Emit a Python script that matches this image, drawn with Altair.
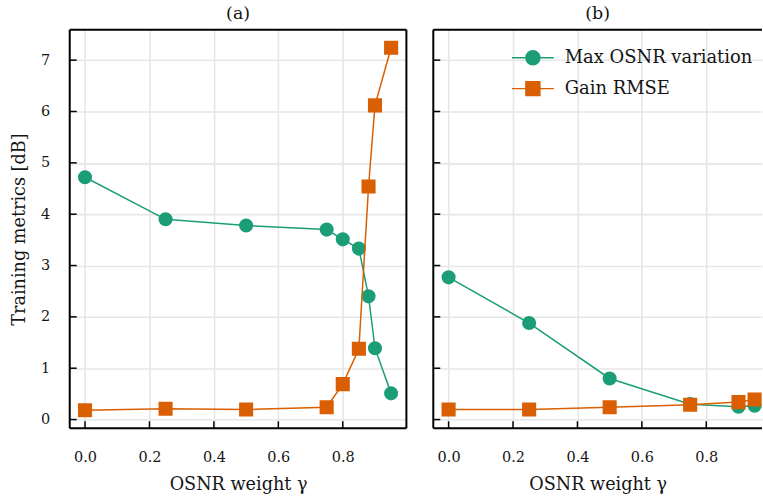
import altair as alt
import pandas as pd

# ---- data ----
series_names = ["Max OSNR variation", "Gain RMSE"]
series_colors = ["#1b9e77", "#d95f02"]

gamma_a = [0.0, 0.25, 0.5, 0.75, 0.8, 0.85, 0.88, 0.9, 0.95]
osnr_a = [4.72, 3.90, 3.78, 3.70, 3.51, 3.33, 2.40, 1.39, 0.51]
rmse_a = [0.18, 0.21, 0.195, 0.24, 0.69, 1.38, 4.54, 6.12, 7.24]

gamma_b = [0.0, 0.25, 0.5, 0.75, 0.9, 0.95]
osnr_b = [2.77, 1.88, 0.80, 0.30, 0.25, 0.27]
rmse_b = [0.195, 0.195, 0.24, 0.29, 0.34, 0.39]

y_ticks = [0, 1, 2, 3, 4, 5, 6, 7]
x_ticks = [0.0, 0.2, 0.4, 0.6, 0.8]

FONT = "DejaVu Serif"
TXT = "#151515"
Y_DOMAIN = [-0.17, 7.59]
H = 400
W_A = 338
W_B = 330
X_DOM_A = [-0.0475, 0.9975]
X_DOM_B = [-0.0475, 0.973]

CIRCLE_LEG = "M-3,0H3M1,0A1,1,0,1,1,-1,0A1,1,0,1,1,1,0Z"
SQUARE_LEG = "M-3,0H3M-1,-1H1V1H-1Z"


def panel(gamma, osnr, rmse, xdom, width, title, first, legend):
    xs = alt.Scale(domain=xdom, nice=False, zero=False)
    ys = alt.Scale(domain=Y_DOMAIN, nice=False, zero=False)
    xaxis = alt.Axis(values=x_ticks, format=".1f", title="OSNR weight γ",
                     labelPadding=22, titlePadding=12)
    if first:
        yaxis = alt.Axis(values=y_ticks, format="d", title="Training metrics [dB]",
                         labelPadding=20, titlePadding=12)
    else:
        yaxis = alt.Axis(values=y_ticks, format="d", title=None, labels=False)

    df_o = pd.DataFrame({"g": gamma, "v": osnr})
    df_r = pd.DataFrame({"g": gamma, "v": rmse})

    def enc(ch):
        return ch.encode(x=alt.X("g:Q", scale=xs, axis=xaxis),
                         y=alt.Y("v:Q", scale=ys, axis=yaxis))

    layers = []
    layers.append(enc(alt.Chart(df_o).mark_line(color=series_colors[0], strokeWidth=1.5, clip=True)))
    layers.append(enc(alt.Chart(df_o).mark_point(shape="circle", filled=True, size=200, opacity=1,
                                                 color=series_colors[0], clip=True)))
    layers.append(enc(alt.Chart(df_r).mark_line(color=series_colors[1], strokeWidth=1.5, clip=True)))
    layers.append(enc(alt.Chart(df_r).mark_point(shape="square", filled=True, size=200, opacity=1,
                                                 color=series_colors[1], clip=True)))

    # inward ticks
    layers.append(alt.Chart(pd.DataFrame({"t": y_ticks})).mark_rule(color="black", strokeWidth=1.5).encode(
        y=alt.Y("t:Q", scale=ys, axis=yaxis), x=alt.value(0), x2=alt.value(7)))
    layers.append(alt.Chart(pd.DataFrame({"t": x_ticks})).mark_rule(color="black", strokeWidth=1.5).encode(
        x=alt.X("t:Q", scale=xs, axis=xaxis), y=alt.value(H), y2=alt.value(H - 7)))

    # frame
    fr = dict(color="black", strokeWidth=2)
    layers.append(alt.Chart().mark_rule(**fr).encode(x=alt.value(0), x2=alt.value(width), y=alt.value(0)))
    layers.append(alt.Chart().mark_rule(**fr).encode(x=alt.value(0), x2=alt.value(width), y=alt.value(H)))
    layers.append(alt.Chart().mark_rule(**fr).encode(x=alt.value(0), y=alt.value(0), y2=alt.value(H)))
    if first:
        layers.append(alt.Chart().mark_rule(**fr).encode(x=alt.value(width), y=alt.value(0), y2=alt.value(H)))

    if legend:
        leg = alt.Legend(title=None, orient="none", legendX=91, legendY=19,
                         labelFont=FONT, labelFontSize=18, labelColor=TXT, labelLimit=0,
                         symbolSize=196, symbolStrokeWidth=1.5, labelOffset=23,
                         rowPadding=11, padding=0)
        ldf = pd.DataFrame({"s": series_names})
        layers.append(alt.Chart(ldf).transform_filter("false").mark_point(
            filled=True, opacity=1, strokeWidth=1.5).encode(
            fill=alt.Fill("s:N", scale=alt.Scale(domain=series_names, range=series_colors), legend=leg),
            stroke=alt.Stroke("s:N", scale=alt.Scale(domain=series_names, range=series_colors), legend=leg),
            shape=alt.Shape("s:N", scale=alt.Scale(domain=series_names, range=[CIRCLE_LEG, SQUARE_LEG]), legend=leg),
        ))

    return alt.layer(*layers).properties(width=width, height=H, title=title)


pa = panel(gamma_a, osnr_a, rmse_a, X_DOM_A, W_A, "(a)", True, False)
pb = panel(gamma_b, osnr_b, rmse_b, X_DOM_B, W_B, "(b)", False, True)

chart = alt.hconcat(pa, pb, spacing=25).resolve_scale(
    fill="independent", stroke="independent", shape="independent"
).resolve_legend(
    fill="independent", stroke="independent", shape="independent"
).properties(
    padding={"left": 10, "top": 4, "right": 0, "bottom": 0}
).configure_view(stroke=None).configure_axis(
    labelFont=FONT, titleFont=FONT, labelFontSize=14.5, titleFontSize=17.7,
    labelColor=TXT, titleColor=TXT, titleFontWeight="normal",
    gridColor="#e6e6e6", gridWidth=1.6, domain=False, ticks=False, tickSize=0
).configure_title(
    font=FONT, fontSize=17.5, fontWeight="normal", color=TXT, offset=6
)

chart.save("out.html", embed_options={"renderer": "svg", "actions": False})
